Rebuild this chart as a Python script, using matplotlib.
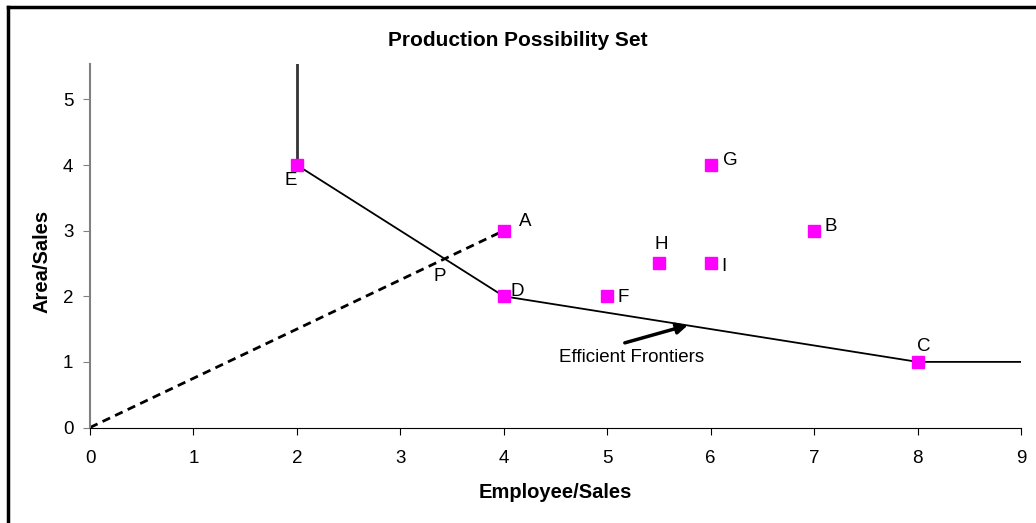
import numpy as np
import matplotlib.pyplot as plt
from matplotlib.lines import Line2D

plt.rcParams['font.family'] = ['Liberation Sans', 'DejaVu Sans']

# DMU data (Employee/Sales, Area/Sales)
names = ['A', 'B', 'C', 'D', 'E', 'F', 'G', 'H', 'I']
emp_sales = [4, 7, 8, 4, 2, 5, 6, 5.5, 6]
area_sales = [3, 3, 1, 2, 4, 2, 4, 2.5, 2.5]

# efficient frontier E -> D -> C, plus the open ends
frontier_x = [2, 2, 4, 8, 9]
frontier_y = [5.54, 4, 2, 1, 1]

# ray from origin to A
ray_x = [0, 4]
ray_y = [0, 3]

# label offsets in pixels (layout only)
label_off = {'A': (21, 9), 'B': (17, 4), 'C': (6, 15), 'D': (13, 5), 'E': (-6, -15),
             'F': (16, -1), 'G': (20, 5), 'H': (2, 19), 'I': (13, -3)}

fig = plt.figure(figsize=(10.36, 5.23), dpi=100)
ax = fig.add_axes([90 / 1036, 1 - 427.5 / 523, 931 / 1036, 363.5 / 523])

ax.plot(frontier_x[:2], frontier_y[:2], color='#333333', lw=2, zorder=2)
ax.plot(frontier_x[1:], frontier_y[1:], color='black', lw=1.3, zorder=2)
ax.plot(ray_x, ray_y, color='black', lw=2, linestyle=(0, (3, 2)), zorder=2)
ax.plot(emp_sales, area_sales, linestyle='none', marker='s', markersize=8,
        color='#FF00FF', zorder=3)

for n, x, y in zip(names, emp_sales, area_sales):
    ax.annotate(n, (x, y), xytext=label_off[n], textcoords='offset pixels',
                ha='center', va='center', fontsize=13.5)

# intersection P of ray OA with segment E-D
px = 6 / 1.75
ax.annotate('P', (px, 0.75 * px), xytext=(-5, -18), textcoords='offset pixels',
            ha='center', va='center', fontsize=13.5)

ax.annotate('', xy=(5.78, 1.56), xytext=(5.17, 1.29),
            arrowprops=dict(arrowstyle='-|>', color='black', lw=2.5,
                            mutation_scale=16, shrinkA=0, shrinkB=0))
ax.text(5.24, 1.07, 'Efficient Frontiers', ha='center', va='center', fontsize=13.5)

ax.set_xlim(0, 9)
ax.set_ylim(0, 5.54)
ax.set_xticks(range(0, 10))
ax.set_yticks(range(0, 6))
ax.tick_params(direction='out', length=5, labelsize=13.5, pad=7)
ax.tick_params(axis='x', pad=11)
ax.spines['top'].set_visible(False)
ax.spines['right'].set_visible(False)
ax.spines['left'].set_color('#808080')
ax.spines['left'].set_linewidth(1.5)
ax.tick_params(axis='y', colors='#808080', labelcolor='black')

fig.text(0.5, 1 - 41 / 523, 'Production Possibility Set', ha='center', va='center',
         fontsize=15, fontweight='bold')
fig.text(555 / 1036, 1 - 493 / 523, 'Employee/Sales', ha='center', va='center',
         fontsize=14.5, fontweight='bold')
fig.text(42 / 1036, 1 - 261 / 523, 'Area/Sales', ha='center', va='center',
         fontsize=14.5, fontweight='bold', rotation=90)

# chart border (left and top edges)
fig.add_artist(Line2D([8 / 1036, 8 / 1036], [0, 1 - 7 / 523], color='black', lw=2.5,
                      transform=fig.transFigure))
fig.add_artist(Line2D([8 / 1036, 1], [1 - 7 / 523, 1 - 7 / 523], color='black', lw=2.5,
                      transform=fig.transFigure))

fig.savefig('out.png', dpi=100)
